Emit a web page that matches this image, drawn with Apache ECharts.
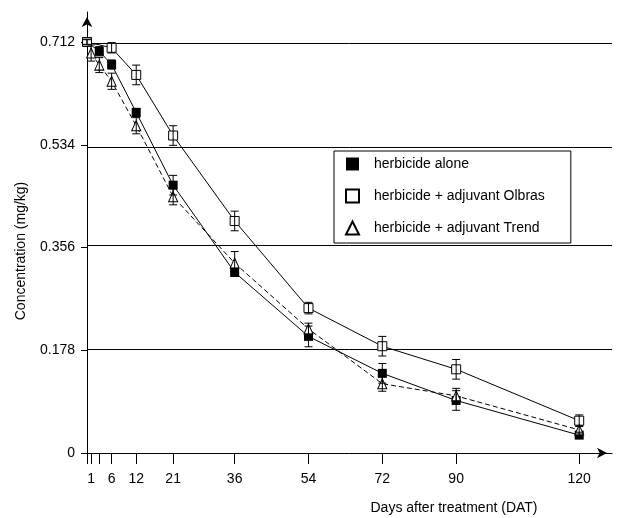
<!DOCTYPE html>
<html lang="en">
<head>
    <meta charset="UTF-8">
    <title>Concentration</title>
    <script src="https://cdn.jsdelivr.net/npm/echarts@6/dist/echarts.min.js"></script>
    <style>
        body { margin: 0; background: #fff; }
        #main { width: 620px; height: 518px; }
    </style>
</head>
<body>
<div id="main"></div>
<script type="text/javascript">
    var font = 'Liberation Sans, Arial, sans-serif';

    // days after treatment
    var daysAlone = [0, 3, 6, 12, 21, 36, 54, 72, 90, 120];
    var alone = [0.712, 0.696, 0.673, 0.590, 0.464, 0.313, 0.202, 0.138, 0.091, 0.031];
    var aloneErr = [0.004, 0.008, 0.008, 0.007, 0.017, 0.007, 0.018, 0.017, 0.017, 0.005];

    var daysOlbras = [0, 6, 12, 21, 36, 54, 72, 90, 120];
    var olbras = [0.712, 0.702, 0.655, 0.550, 0.402, 0.251, 0.185, 0.145, 0.056];
    var olbrasErr = [0.005, 0.009, 0.017, 0.017, 0.017, 0.010, 0.017, 0.017, 0.010];

    var daysTrend = [1, 3, 6, 12, 21, 36, 54, 72, 90, 120];
    var trend = [0.693, 0.672, 0.644, 0.567, 0.444, 0.329, 0.215, 0.120, 0.099, 0.040];
    var trendErr = [0.014, 0.013, 0.014, 0.014, 0.014, 0.020, 0.010, 0.013, 0.013, 0.007];

    var xTicks = [0, 1, 3, 6, 12, 21, 36, 54, 72, 90, 120];
    var xLabels = [1, 6, 12, 21, 36, 54, 72, 90, 120];
    var yTicks = [0, 0.178, 0.356, 0.534, 0.712];
    var gridLevels = [0.178, 0.356, 0.534, 0.712];

    var names = ['herbicide alone', 'herbicide + adjuvant Olbras', 'herbicide + adjuvant Trend'];

    function pairs(xs, ys) {
        return xs.map(function (x, i) { return [x, ys[i]]; });
    }
    function errData(xs, ys, es) {
        return xs.map(function (x, i) { return [x, ys[i], es[i]]; });
    }

    function renderErr(params, api) {
        var x = api.value(0), y = api.value(1), e = api.value(2);
        var lo = api.coord([x, y - e]);
        var hi = api.coord([x, y + e]);
        var w = 4;
        var st = {stroke: '#000', lineWidth: 1};
        return {
            type: 'group',
            children: [
                {type: 'line', shape: {x1: lo[0], y1: lo[1], x2: hi[0], y2: hi[1]}, style: st},
                {type: 'line', shape: {x1: lo[0] - w, y1: lo[1], x2: lo[0] + w, y2: lo[1]}, style: st},
                {type: 'line', shape: {x1: hi[0] - w, y1: hi[1], x2: hi[0] + w, y2: hi[1]}, style: st}
            ]
        };
    }

    var myChart = echarts.init(document.getElementById('main'), null, {renderer: 'canvas'});

    var option = {
        animation: false,
        backgroundColor: '#fff',
        textStyle: {fontFamily: font},
        grid: {left: 87, right: 8, top: 12, bottom: 65},
        legend: {
            orient: 'vertical',
            left: 334,
            top: 151,
            padding: [5, 26, 7, 11],
            itemWidth: 13,
            itemHeight: 13,
            itemGap: 16,
            borderColor: '#000',
            borderWidth: 1,
            backgroundColor: '#fff',
            textStyle: {fontSize: 14, color: '#000', fontFamily: font, lineHeight: 16, padding: [0, 0, 0, 10]},
            data: [
                {name: names[0], icon: 'rect'},
                {name: names[1], icon: 'rect'},
                {name: names[2], icon: 'triangle'}
            ]
        },
        xAxis: {
            type: 'value',
            min: 0,
            max: 128,
            axisLine: {show: true, onZero: false, lineStyle: {color: '#000', width: 1},
                symbol: ['none', 'arrow'], symbolSize: [8, 10], symbolOffset: [0, -5]},
            axisTick: {show: true, customValues: xTicks, length: 11, lineStyle: {color: '#000'}},
            axisLabel: {customValues: xLabels, color: '#000', fontSize: 14, fontFamily: font, margin: 19},
            splitLine: {show: false}
        },
        yAxis: {
            type: 'value',
            min: 0,
            max: 0.764,
            axisLine: {show: true, onZero: false, lineStyle: {color: '#000', width: 1},
                symbol: ['none', 'arrow'], symbolSize: [8, 10], symbolOffset: [0, -5]},
            axisTick: {show: true, customValues: yTicks, length: 6, lineStyle: {color: '#000'}},
            axisLabel: {customValues: yTicks, color: '#000', fontSize: 14, fontFamily: font, margin: 12},
            splitLine: {show: false}
        },
        graphic: [
            {
                type: 'text', x: 21, y: 251, rotation: Math.PI / 2,
                style: {text: 'Concentration (mg/kg)', fontSize: 14, fontFamily: font, fill: '#000',
                    align: 'center', verticalAlign: 'middle'}
            },
            {
                type: 'text', x: 454, y: 508,
                style: {text: 'Days after treatment (DAT)', fontSize: 14, fontFamily: font, fill: '#000',
                    align: 'center', verticalAlign: 'middle'}
            }
        ],
        series: [
            {
                name: names[0],
                type: 'line',
                data: pairs(daysAlone, alone),
                symbol: 'rect',
                symbolSize: 9,
                showAllSymbol: true,
                lineStyle: {color: '#000', width: 1},
                itemStyle: {color: '#000', borderColor: '#000', borderWidth: 0},
                z: 3,
                markLine: {
                    silent: true,
                    symbol: 'none',
                    label: {show: false},
                    lineStyle: {color: '#000', width: 1, type: 'solid'},
                    data: gridLevels.map(function (v) { return {yAxis: v}; }),
                    z: 1
                }
            },
            {
                name: names[1],
                type: 'line',
                data: pairs(daysOlbras, olbras),
                symbol: 'rect',
                symbolSize: 9,
                showAllSymbol: true,
                lineStyle: {color: '#000', width: 1},
                itemStyle: {color: '#fff', borderColor: '#000', borderWidth: 1},
                z: 3
            },
            {
                name: names[2],
                type: 'line',
                data: pairs(daysTrend, trend),
                symbol: 'triangle',
                symbolSize: [9, 10],
                showAllSymbol: true,
                lineStyle: {color: '#000', width: 1, type: [5, 3]},
                itemStyle: {color: '#fff', borderColor: '#000', borderWidth: 1},
                z: 3
            },
            {type: 'custom', renderItem: renderErr, data: errData(daysAlone, alone, aloneErr), z: 5, silent: true},
            {type: 'custom', renderItem: renderErr, data: errData(daysOlbras, olbras, olbrasErr), z: 5, silent: true},
            {type: 'custom', renderItem: renderErr, data: errData(daysTrend, trend, trendErr), z: 5, silent: true}
        ]
    };

    myChart.setOption(option);
</script>
</body>
</html>
